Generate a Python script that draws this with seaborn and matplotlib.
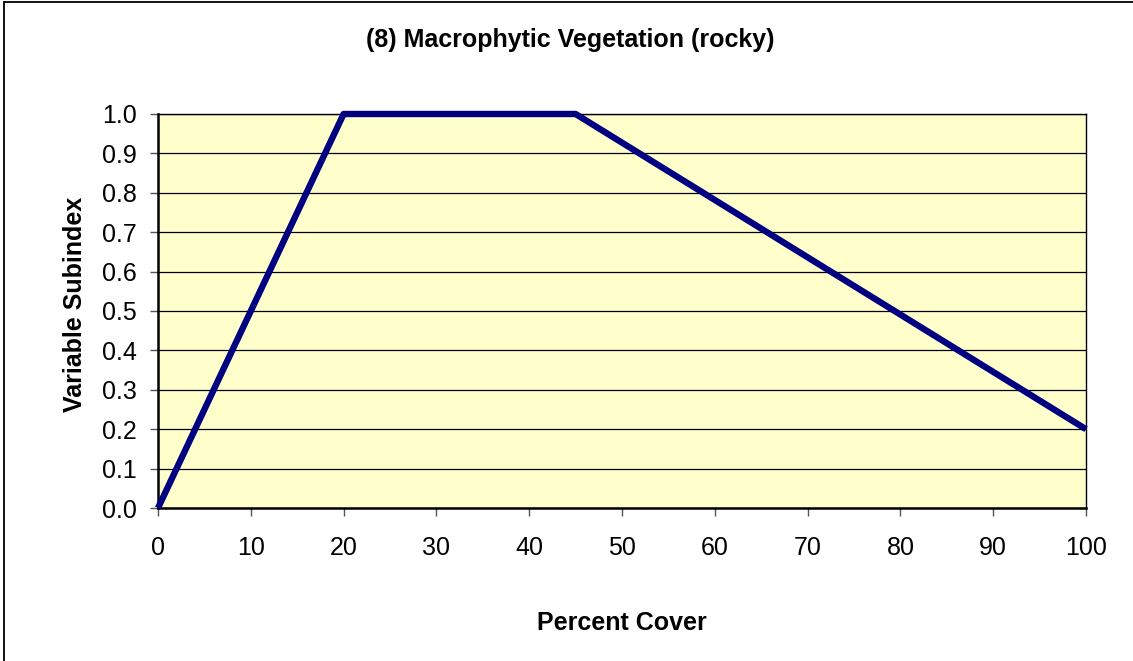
import matplotlib
matplotlib.use("Agg")
import matplotlib.pyplot as plt
import seaborn as sns
import pandas as pd
from matplotlib.lines import Line2D

# Subindex curve breakpoints
percent_cover = [0, 20, 45, 100]
subindex = [0.0, 1.0, 1.0, 0.2]

x_ticks = [0, 10, 20, 30, 40, 50, 60, 70, 80, 90, 100]
y_ticks = [0.0, 0.1, 0.2, 0.3, 0.4, 0.5, 0.6, 0.7, 0.8, 0.9, 1.0]

sns.set_theme(style="white")
plt.rcParams["font.family"] = ["Liberation Sans", "DejaVu Sans"]
plt.rcParams["text.color"] = "black"
plt.rcParams["axes.labelcolor"] = "black"

df = pd.DataFrame({"Percent Cover": percent_cover, "Variable Subindex": subindex})

W, H = 1133, 661
fig = plt.figure(figsize=(W / 100, H / 100), dpi=100)
ax = fig.add_axes([158 / W, 1 - 508 / H, (1086 - 158) / W, (508 - 114) / H])
ax.set_facecolor("#FFFFCC")

sns.lineplot(data=df, x="Percent Cover", y="Variable Subindex", ax=ax,
             color="#000080", linewidth=4.6, solid_capstyle="butt", zorder=5, clip_on=False)

ax.set_xlim(0, 100)
ax.set_ylim(0, 1.0)
ax.set_xticks(x_ticks)
ax.set_yticks(y_ticks)
ax.set_xticklabels([str(v) for v in x_ticks])
ax.set_yticklabels([f"{v:.1f}" for v in y_ticks])

ax.yaxis.grid(True, color="black", linewidth=0.9)
ax.xaxis.grid(False)
ax.set_axisbelow(True)

for side in ["left", "bottom"]:
    ax.spines[side].set_color("black")
    ax.spines[side].set_linewidth(1.8)
for side in ["right", "top"]:
    ax.spines[side].set_color("black")
    ax.spines[side].set_linewidth(1.0)

ax.tick_params(axis="both", which="major", direction="out", length=6, width=1,
               color="#555555", labelsize=18, labelcolor="black",
               bottom=True, left=True)
ax.tick_params(axis="x", pad=14)
ax.tick_params(axis="y", pad=9)

ax.set_xlabel("Percent Cover", fontsize=18, fontweight="bold")
ax.xaxis.label.set_va("baseline")
ax.xaxis.set_label_coords(0.5, -(630 - 508) / 394)

ax.set_ylabel("Variable Subindex", fontsize=18, fontweight="bold")
ax.yaxis.label.set_va("center")
ax.yaxis.set_label_coords((75 - 158) / 928, (508 - 304) / 394)

fig.text(570 / W, 1 - 47 / H, "(8) Macrophytic Vegetation (rocky)",
         ha="center", va="baseline", fontsize=18, fontweight="bold")

# Frame lines along the top and left edges of the figure
fig.add_artist(Line2D([4 / W, 1.0], [1 - 2 / H, 1 - 2 / H], transform=fig.transFigure,
                      color="black", linewidth=1.3))
fig.add_artist(Line2D([4 / W, 4 / W], [0.0, 1 - 2 / H], transform=fig.transFigure,
                      color="black", linewidth=1.3))

fig.savefig("out.png", dpi=100, facecolor="white")
